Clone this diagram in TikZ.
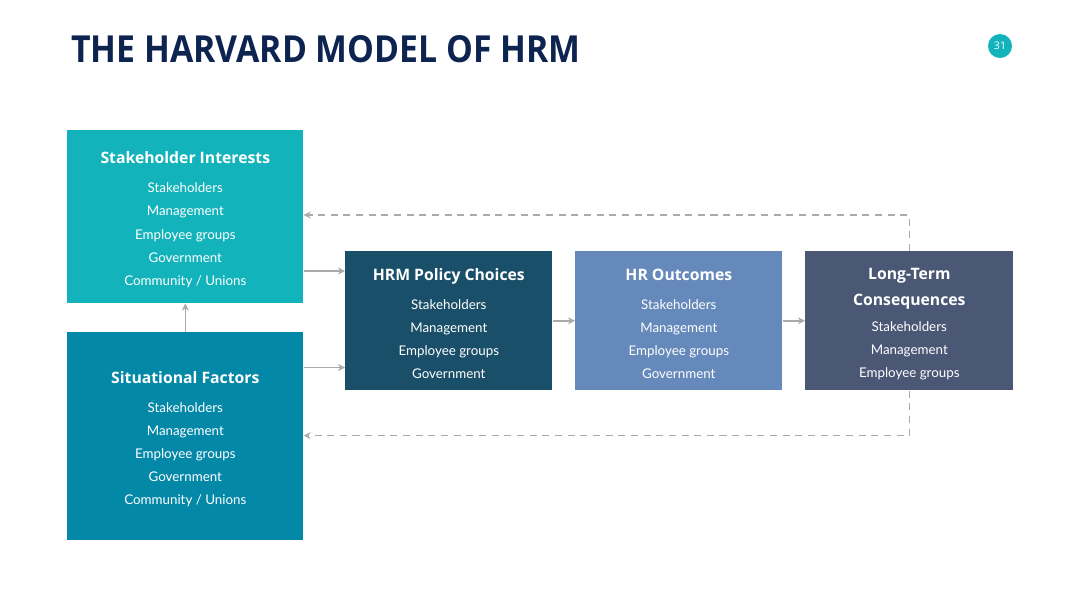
\documentclass[tikz,border=0pt]{standalone}
\usepackage{fontspec}
\setmainfont{Lato}
\newfontfamily\opensans{Open Sans}
\usetikzlibrary{arrows.meta,positioning,calc}
\definecolor{navy}{HTML}{0D2350}
\definecolor{teal}{HTML}{13B3BB}
\definecolor{petrol}{HTML}{0488A8}
\definecolor{deep}{HTML}{1A4F6A}
\definecolor{steel}{HTML}{6689BB}
\definecolor{slate}{HTML}{4A5875}
\definecolor{arrowgray}{HTML}{AAAAAA}
% heading font; the strut pushes the block a little down in its box
\newcommand{\hdf}{\opensans\bfseries\fontsize{11.2}{16.4}\selectfont}
\newcommand{\hd}{\hdf\rule{0pt}{12.6pt}}

\begin{document}
\begin{tikzpicture}[x=0.025cm,y=-0.025cm,
  box/.style={fill=#1,text=white,anchor=north west,align=center,inner sep=0pt,
    font=\fontsize{9.5}{16.4}\selectfont},
  flow/.style={draw=arrowgray,line width=1pt,-{Stealth[length=5pt,width=5pt]}},
  feedback/.style={flow,dash pattern=on 5pt off 4pt}]
\useasboundingbox (0,0) rectangle (1080,608);
\node[anchor=base west,text=navy,inner sep=0pt,
  font=\opensans\bfseries\fontsize{26.5}{30}\selectfont]
  (title) at (71,62) {\scalebox{0.907}[1]{THE HARVARD MODEL OF HRM}};
\node[circle,fill=teal,text=white,minimum size=0.6cm,inner sep=0pt,
  font=\opensans\fontsize{7.5}{9}\selectfont] (page) at (1000,46) {31};
% boxes
\node[box=teal,minimum width=5.9cm,minimum height=4.325cm] (si) at (67,130)
  {\hd Stakeholder Interests\\[4.2pt] Stakeholders\\ Management\\ Employee groups\\
   Government\\ Community / Unions};
\node[box=petrol,minimum width=5.9cm,minimum height=5.2cm] (sf) at (67,332)
  {\hd Situational Factors\\[4.2pt] Stakeholders\\ Management\\ Employee groups\\
   Government\\ Community / Unions};
\node[box=deep,minimum width=5.175cm,minimum height=3.475cm] (hrm) at (345,251)
  {\hd HRM Policy Choices\\[4.2pt] Stakeholders\\ Management\\ Employee groups\\
   Government};
\node[box=steel,minimum width=5.175cm,minimum height=3.475cm] (out) at (575,251)
  {\hd HR Outcomes\\[4.2pt] Stakeholders\\ Management\\ Employee groups\\
   Government};
\node[box=slate,minimum width=5.2cm,minimum height=3.475cm] (lt) at (805,251)
  {\hd Long-Term\\[2.1pt] \hdf Consequences\\[2.1pt] Stakeholders\\ Management\\
   Employee groups};
% connectors
\coordinate (a1) at ([yshift=-0.5cm]hrm.north west);
\coordinate (a2) at ([yshift=0.575cm]hrm.south west);
\draw[flow] (si.east |- a1) -- (a1);
\draw[flow] (sf.east |- a2) -- (a2);
\draw[flow] (sf.north) -- (si.south);
\draw[flow] (hrm) -- (out);
\draw[flow] (out) -- (lt);
\coordinate (fbtop) at ([yshift=0.9cm]lt.north);
\coordinate (fbbot) at ([yshift=-1.125cm]lt.south);
\draw[feedback] (lt.north) -- (fbtop) -- (si.east |- fbtop);
\draw[feedback] (lt.south) -- (fbbot) -- (sf.east |- fbbot);
\end{tikzpicture}
\end{document}
